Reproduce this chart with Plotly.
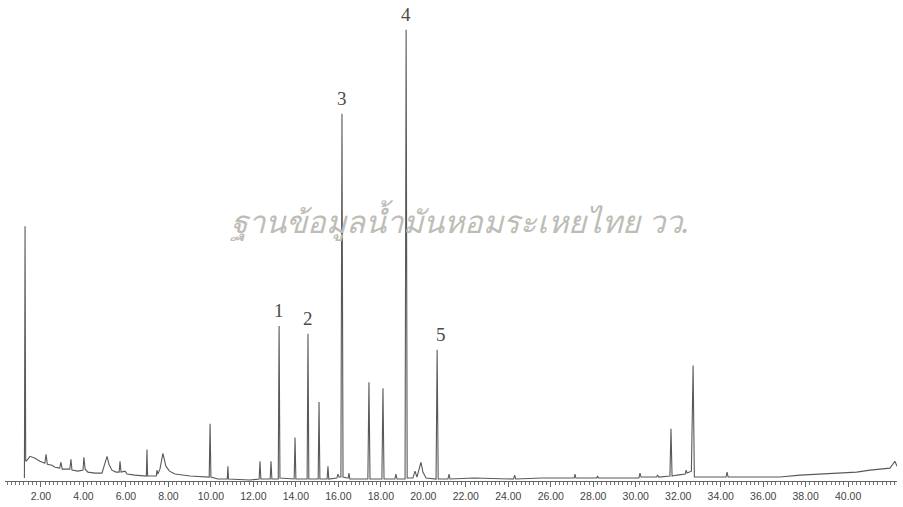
import plotly.graph_objects as go

# Total ion chromatogram: retention time (min) and detector response (relative units)
trace_time = [
    1.22, 1.25, 1.28, 1.34, 1.48, 1.72, 1.95, 2.18, 2.24, 2.30, 2.52, 2.66, 2.88, 2.94, 3.00,
    3.27, 3.36, 3.41, 3.46, 3.74, 3.93, 3.98, 4.02, 4.08, 4.21, 4.54, 4.87, 5.01, 5.11, 5.20,
    5.34, 5.53, 5.68, 5.72, 5.77, 5.96, 6.05, 6.43, 6.90, 6.96, 6.99, 7.02, 7.32, 7.43, 7.46,
    7.50, 7.60, 7.74, 7.88, 8.05, 8.31, 9.02, 9.92, 9.96, 10.00, 10.33, 10.71, 10.77, 10.80,
    10.83, 11.84, 12.27, 12.31, 12.35, 12.79, 12.83, 12.87, 13.17, 13.21, 13.25, 13.92,
    13.96, 14.00, 14.53, 14.57, 14.61, 15.05, 15.09, 15.13, 15.47, 15.51, 15.55, 15.93,
    15.98, 16.03, 16.12, 16.17, 16.22, 16.40, 16.46, 16.50, 16.54, 17.39, 17.44, 17.49,
    18.05, 18.10, 18.15, 18.66, 18.71, 18.76, 19.14, 19.19, 19.24, 19.51, 19.61, 19.70,
    19.80, 19.89, 19.98, 20.13, 20.60, 20.65, 20.70, 21.16, 21.21, 21.26, 22.40, 23.50,
    24.25, 24.30, 24.35, 25.60, 27.10, 27.14, 27.18, 28.16, 28.20, 28.24, 29.40, 30.15,
    30.20, 30.25, 30.98, 31.03, 31.08, 31.61, 31.66, 31.71, 31.95, 32.20, 32.33, 32.37,
    32.42, 32.62, 32.70, 32.76, 33.20, 34.25, 34.30, 34.35, 35.50, 36.79, 37.74, 38.70,
    39.62, 40.40, 41.03, 41.60, 41.97, 42.20, 42.30,
]
trace_signal = [
    3, 258, 20, 21, 25, 23, 20, 18, 27, 17, 16, 14, 13, 19, 12,
    12, 12, 22, 11, 10, 11, 11, 24, 12, 9, 8, 8, 17, 25, 17,
    11, 9, 9, 20, 9, 10, 7, 6, 5, 5, 32, 5, 5, 5, 11,
    7, 12, 28, 15, 10, 7, 5, 4, 58, 4, 2, 2, 2, 15,
    2, 1, 2, 20, 2, 2, 20, 2, 2, 157, 3, 2,
    44, 2, 2, 149, 2, 2, 80, 2, 2, 15, 2, 3,
    7, 4, 4, 372, 4, 3, 3, 8, 2, 2, 100, 2,
    2, 94, 2, 2, 7, 2, 2, 457, 3, 3, 10, 4,
    12, 19, 9, 3, 2, 133, 2, 2, 7, 2, 3, 2,
    2, 6, 2, 3, 3, 7, 3, 3, 5, 3, 3, 3,
    8, 4, 4, 6, 4, 5, 53, 5, 6, 7, 7, 11,
    8, 10, 117, 4, 4, 4, 9, 4, 4, 4, 6, 7,
    8, 9, 11, 12, 13, 20, 15,
]

# Numbered components and their retention times / apex responses
peak_labels = ["1", "2", "3", "4", "5"]
peak_times = [13.21, 14.57, 16.17, 19.19, 20.65]
peak_heights = [157, 149, 372, 457, 133]
label_offsets = [0, 0, 0, 0, 0.18]

x_tick_values = [2, 4, 6, 8, 10, 12, 14, 16, 18, 20, 22, 24, 26, 28, 30, 32, 34, 36, 38, 40]
x_tick_text = ["%.2f" % v for v in x_tick_values]

watermark = "ฐานข้อมูลน้ำมันหอมระเหยไทย วว."

fig = go.Figure()
fig.add_trace(go.Scatter(
    x=trace_time, y=trace_signal, mode="lines",
    line=dict(color="#595959", width=1.1),
    hoverinfo="x+y", showlegend=False,
))

for lab, t, h, dx in zip(peak_labels, peak_times, peak_heights, label_offsets):
    fig.add_annotation(
        x=t + dx, y=h, text=lab, showarrow=False,
        yanchor="bottom", yshift=3,
        font=dict(family="Liberation Serif, Times New Roman, serif", size=19, color="#4a4a4a"),
    )

fig.add_annotation(
    xref="paper", yref="paper", x=0.510, y=0.553,
    text=watermark, showarrow=False,
    font=dict(family="Noto Sans, DejaVu Sans, sans-serif", size=31, color="#bdbdb6", style="italic"),
)

fig.update_layout(
    width=903, height=507,
    margin=dict(l=5, r=6, t=10, b=20),
    paper_bgcolor="white", plot_bgcolor="white",
    xaxis=dict(
        range=[0.306, 42.30], showgrid=False, zeroline=False,
        showline=True, linecolor="#666666", linewidth=1,
        tickmode="array", tickvals=x_tick_values, ticktext=x_tick_text,
        ticks="outside", ticklen=5, tickcolor="#666666", tickwidth=1,
        minor=dict(dtick=0.2, tick0=0, ticks="outside", ticklen=3, tickcolor="#777777", showgrid=False),
        tickfont=dict(family="Liberation Sans, Arial, sans-serif", size=10.5, color="#444444"),
    ),
    yaxis=dict(
        range=[0, 477], visible=False, showgrid=False, zeroline=False,
    ),
)

fig.write_html("out.html")
